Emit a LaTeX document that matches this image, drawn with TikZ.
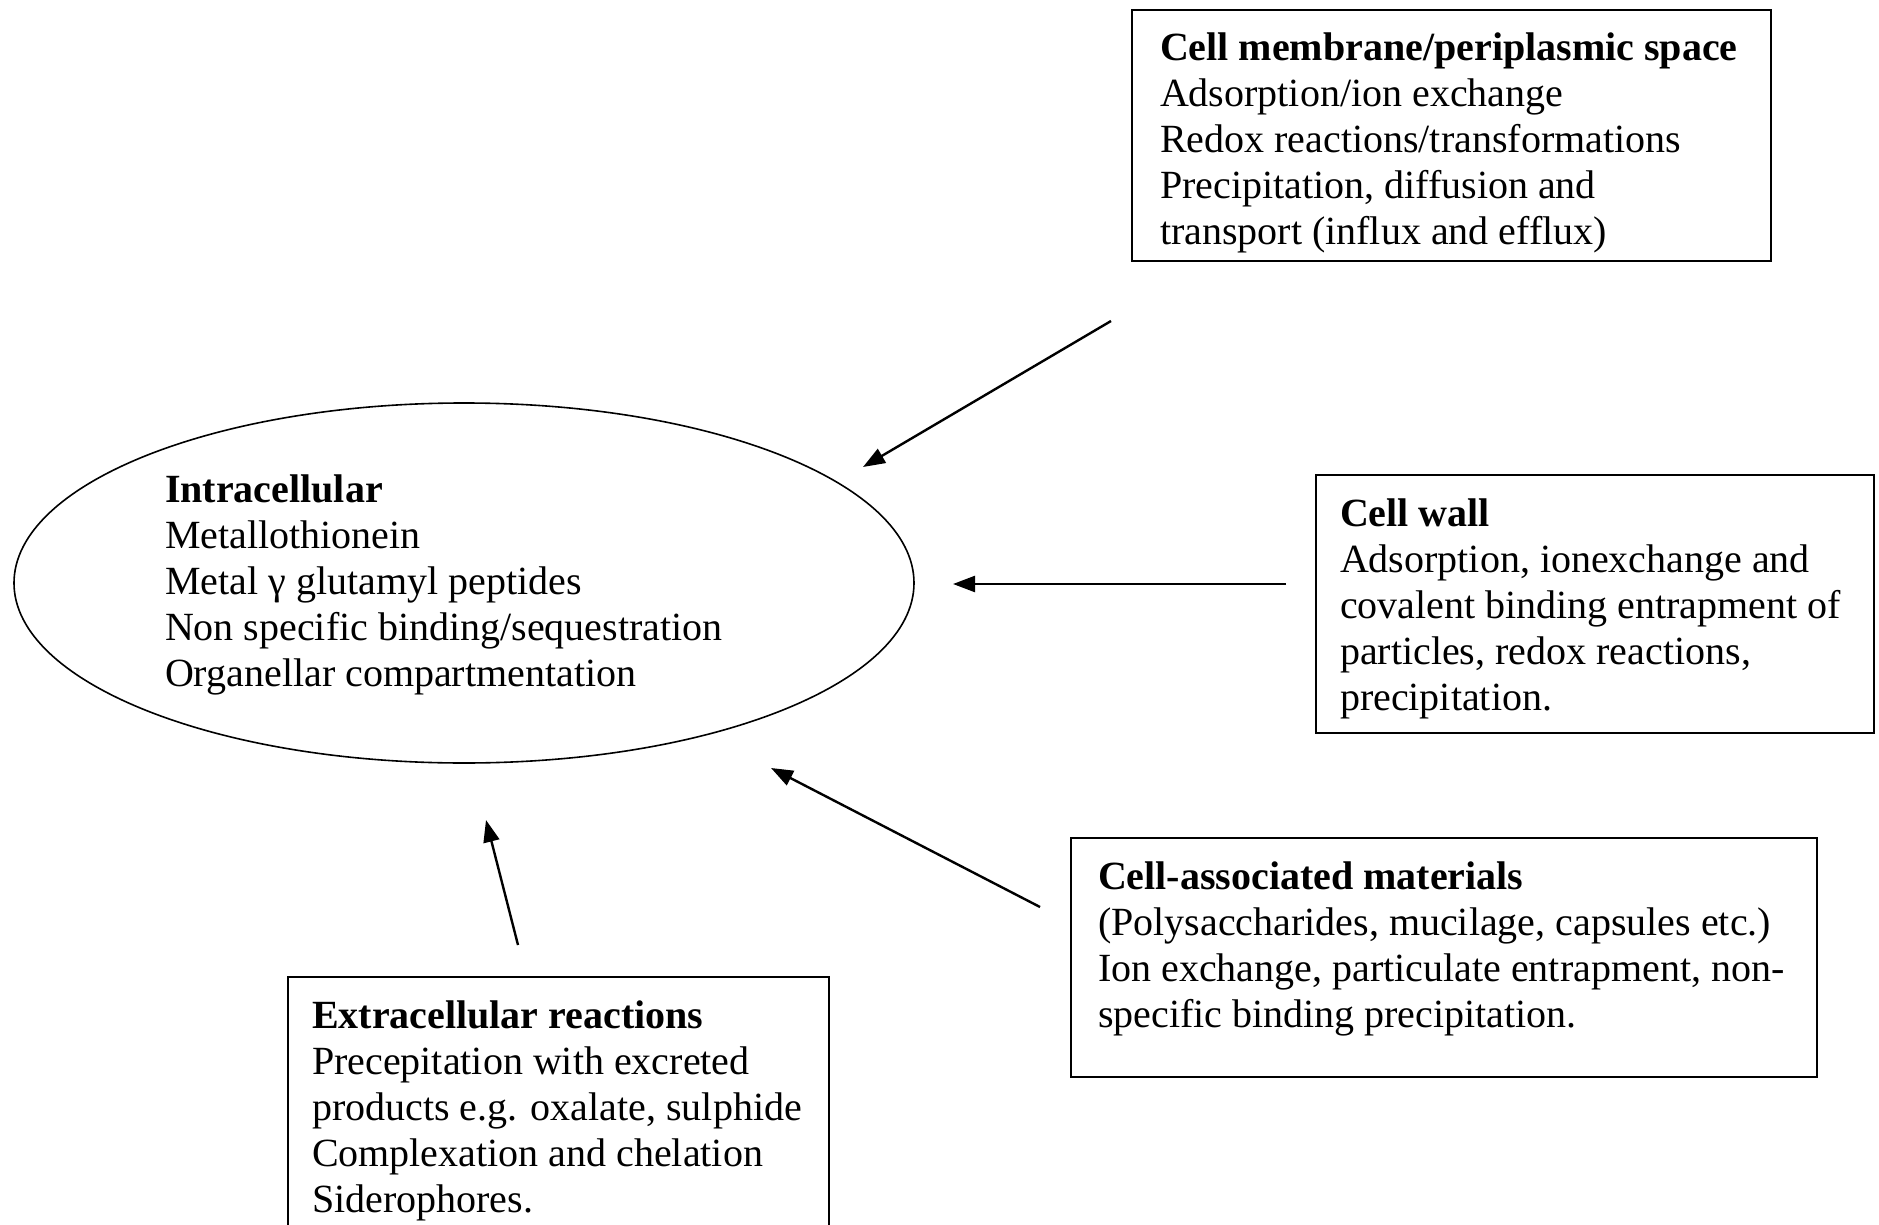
\documentclass[tikz,border=0pt]{standalone}
\usepackage{fontspec}
\setmainfont{Liberation Serif}
\usetikzlibrary{shapes.geometric,arrows.meta}

\begin{document}
\begin{tikzpicture}[
  x=0.5pt, y=-0.5pt,
  every node/.style={font={\fontsize{20}{23}\selectfont}},
  infobox/.style={draw, line width=1pt, align=flush left, inner ysep=0pt},
  cellbody/.style={draw, ellipse, line width=0.8pt, inner sep=0pt, align=flush left,
    minimum width=450pt, minimum height=180pt, text width=299pt},
  arr/.style={-{Triangle[length=11pt, width=8pt]}, line width=1.2pt}
]
  \useasboundingbox (0,0) rectangle (1879,1225);

  \node[cellbody, text height=16.3pt] (intra) at (464,583) {\textbf{Intracellular}\\Metallothionein\\Metal γ glutamyl peptides\\Non specific binding/sequestration\\Organellar compartmentation};
  \node[infobox, minimum width=319.5pt, minimum height=125.5pt, inner xsep=14pt, text width=291.5pt, text height=21pt] (membr) at (1451.5,135.5)
    {\textbf{Cell membrane/periplasmic space}\\Adsorption/ion exchange\\Redox reactions/transformations\\Precipitation, diffusion and\\transport (influx and efflux)};
  \node[infobox, minimum width=279pt, minimum height=129pt, inner xsep=12pt, text width=255pt, text height=18.8pt] (wall) at (1595,604)
    {\textbf{Cell wall}\\Adsorption, ionexchange and\\covalent binding entrapment of\\particles, redox reactions,\\precipitation.};
  \node[infobox, minimum width=373pt, minimum height=119.5pt, inner xsep=13.5pt, text width=346pt] (assoc) at (1444,957.5)
    {\textbf{Cell-associated materials}\\(Polysaccharides, mucilage, capsules etc.)\\Ion exchange, particulate entrapment, non-\\specific binding precipitation.\par\kern8.5pt};
  \node[infobox, minimum width=270.5pt, minimum height=131.5pt, inner xsep=12pt, text width=246.5pt, text height=15.8pt] (extra) at (558.5,1108.5)
    {\textbf{Extracellular reactions}\\Precepitation with excreted\\products e.g. oxalate, sulphide\\Complexation and chelation\\Siderophores.};

  % free ends of the arrows
  \coordinate (membr-t) at (1111,321);  \coordinate (membr-h) at (863,467);
  \coordinate (wall-t)  at (1286,584);  \coordinate (wall-h)  at (953,584);
  \coordinate (assoc-t) at (1040,907);  \coordinate (assoc-h) at (771,768);
  \coordinate (extra-t) at (518,945);   \coordinate (extra-h) at (486,820);

  \draw[arr] (membr-t) -- (membr-h);
  \draw[arr] (wall-t) -- (wall-h);
  \draw[arr] (assoc-t) -- (assoc-h);
  \draw[arr] (extra-t) -- (extra-h);
\end{tikzpicture}
\end{document}
